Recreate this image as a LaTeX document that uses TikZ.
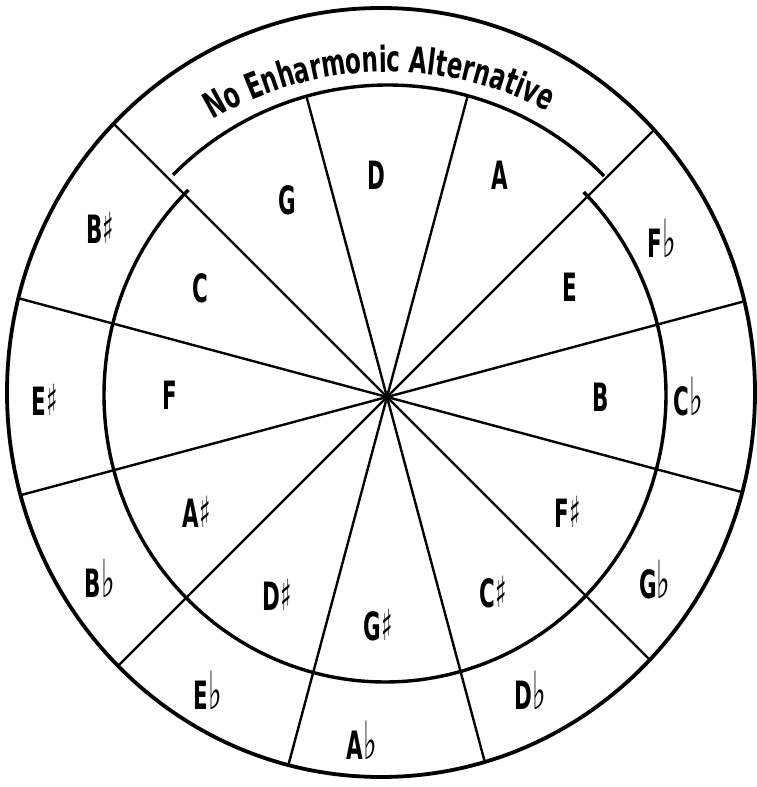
\documentclass[tikz,border=0pt]{standalone}
\usepackage{fontspec}
\newfontfamily\keyfont[FakeStretch=0.55]{DejaVu Sans}
\newfontfamily\bannerfont[FakeStretch=0.64]{DejaVu Sans}
\newcommand{\keyflat}{\scalebox{1.35}{♭}}
\newcommand{\keysharp}{\scalebox{1.1}{♯}}
\usetikzlibrary{decorations.text}

\begin{document}
\begin{tikzpicture}[x=1pt, y=1pt,
    rim/.style={line width=3.4pt},
    spoke/.style={line width=2.4pt, line cap=round},
    key/.style={font=\keyfont\bfseries\fontsize{39}{42}\selectfont, inner sep=0pt},
  ]
  \path[use as bounding box, fill=white] (0,0) rectangle (757,787);
  \coordinate (hub) at (387,390);
  \coordinate (outc) at (381,394.5);
  \coordinate (innc) at (385,392);
  \coordinate (topc) at (388,400);
  \coordinate (txtc) at (388,370);

  % ---- Rings ----
  \draw[rim, line width=3.8pt] (outc) ellipse [x radius=374, y radius=384.5];
  \draw[rim] (innc) ++(134.4:281 and 287)
    arc[start angle=134.4, end angle=405, x radius=281, y radius=287];
  \draw[rim] (topc) ++(44.3:302) arc[start angle=44.3, end angle=135.4, radius=302];

  % ---- Spokes (the two beside D stop at the inner ring) ----
  \begin{scope}
    \clip (outc) ellipse [x radius=374, y radius=384.5];
    \foreach \a in {15,45,135,165,195,225,255,285,315,345}
      \draw[spoke] (hub) -- ++(\a:420);
  \end{scope}
  \foreach \a in {75,105}
    \draw[spoke] (hub) -- ++(\a:311);

  % ---- Curved banner in the top of the outer ring ----
  \path (txtc) ++(125:345) coordinate (txts);
  \path[decorate, decoration={text along path, text align=center,
      text={|\bannerfont\bfseries\fontsize{36}{40}\selectfont|No Enharmonic Alternative}}]
    (txts) arc[start angle=125, end angle=58, radius=345];

  % ---- Inner ring: keys ----
  \node[key] (keyD) at (376,612) {D};
  \node[key] (keyG) at (287,587) {G};
  \node[key] (keyA) at (500,612) {A};
  \node[key] (keyE) at (570,500) {E};
  \node[key] (keyC) at (200,499) {C};
  \node[key] (keyF) at (170,392) {F};
  \node[key] (keyB) at (601,390) {B};
  \node[key] (keyAs) at (197,275) {A\keysharp};
  \node[key] (keyFs) at (568,275) {F\keysharp};
  \node[key] (keyDs) at (277,192) {D\keysharp};
  \node[key] (keyCs) at (493,195) {C\keysharp};
  \node[key] (keyGs) at (378,162) {G\keysharp};

  % ---- Outer ring: enharmonic spellings ----
  \node[key] (altFb) at (662,549) {F\keyflat};
  \node[key] (altCb) at (688,390) {C\keyflat};
  \node[key] (altGb) at (655,207) {G\keyflat};
  \node[key] (altDb) at (530,97) {D\keyflat};
  \node[key] (altAb) at (362,47) {A\keyflat};
  \node[key] (altEb) at (208,97) {E\keyflat};
  \node[key] (altBb) at (100,209) {B\keyflat};
  \node[key] (altEs) at (45,387) {E\keysharp};
  \node[key] (altBs) at (100,559) {B\keysharp};
\end{tikzpicture}
\end{document}
